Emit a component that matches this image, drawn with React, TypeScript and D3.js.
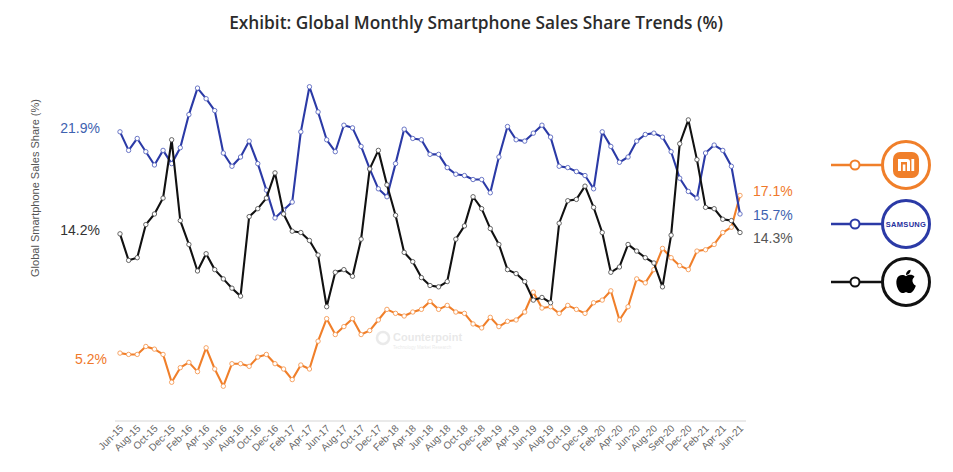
import React from "react";
import * as d3 from "d3";

const tickLabels = [
  "Jun-15","Aug-15","Oct-15","Dec-15","Feb-16","Apr-16","Jun-16","Aug-16","Oct-16","Dec-16",
  "Feb-17","Apr-17","Jun-17","Aug-17","Oct-17","Dec-17","Feb-18","Apr-18","Jun-18","Aug-18",
  "Oct-18","Dec-18","Feb-19","Apr-19","Jun-19","Aug-19","Oct-19","Dec-19","Feb-20","Apr-20",
  "Jun-20","Aug-20","Sep-20","Dec-20","Feb-21","Apr-21","Jun-21"
];

const samsung = [
  21.9,20.5,21.4,20.4,19.4,20.5,19.5,20.7,23.2,25.2,24.4,23.5,20.3,19.3,20.0,21.2,19.5,17.5,15.4,16.0,
  16.6,21.9,25.3,23.4,21.3,20.4,22.4,22.2,20.8,19.1,17.6,17.0,19.5,22.1,21.4,21.3,20.2,20.2,19.2,18.7,
  18.6,18.3,18.3,17.3,20.0,22.3,21.3,21.2,21.8,22.4,21.5,19.3,19.2,18.9,18.6,17.6,21.9,20.8,19.6,20.0,
  21.2,21.7,21.8,21.5,20.4,18.4,17.4,16.9,20.3,20.9,20.5,19.3,15.7
];

const apple = [
  14.2,12.2,12.4,14.9,15.7,16.9,21.3,15.2,13.4,11.4,12.7,11.5,10.8,10.1,9.5,15.5,16.1,16.9,18.8,15.7,
  14.4,14.3,13.7,12.6,8.7,11.3,11.5,11.0,13.8,19.1,20.5,17.9,15.6,12.8,12.1,10.9,10.3,10.2,10.6,13.8,
  14.8,17.0,16.1,14.6,13.4,11.5,11.2,10.6,9.2,9.4,9.0,15.0,16.7,16.8,17.8,16.2,14.3,11.3,11.7,13.4,
  12.9,12.4,12.0,10.2,14.1,21.0,22.8,19.8,16.2,16.1,15.3,15.2,14.3
];

const xiaomi = [
  5.2,5.1,5.1,5.7,5.5,5.1,3.0,4.1,4.5,3.8,5.6,4.0,2.7,4.4,4.4,4.2,4.9,5.1,4.4,4.0,
  3.2,4.3,4.0,6.1,7.8,6.6,7.2,7.8,6.6,6.9,7.7,8.5,8.2,8.0,8.3,8.5,9.1,8.5,8.8,8.3,
  8.2,7.4,7.1,7.9,7.2,7.6,7.7,8.3,9.8,8.6,8.7,8.2,8.8,8.5,8.2,9.0,9.2,9.9,7.7,8.7,
  10.8,10.5,11.5,13.1,12.4,11.8,11.5,12.9,13.0,13.4,14.3,14.7,17.1
];

const startLabels = ["21.9%", "14.2%", "5.2%"];
const endLabels = ["17.1%", "15.7%", "14.3%"];

const C_SAM = "#2b3aa6";
const C_APL = "#111111";
const C_XIA = "#f07f2a";

export default function App() {
  const W = 953, H = 472;
  const x = d3.scaleLinear().domain([0, 72]).range([120, 740]);
  const y = d3.scaleLinear().domain([0, 25]).range([422, 422 - 25 * 13.25]);
  const line = d3.line<number>().x((_, i) => x(i)).y((v) => y(v));

  const series = [
    { data: xiaomi, color: C_XIA },
    { data: samsung, color: C_SAM },
    { data: apple, color: C_APL },
  ];

  const legendY = [165, 224, 282];
  const legendColors = [C_XIA, C_SAM, C_APL];

  return (
    <svg width={W} height={H} style={{ position: "absolute", left: 0, top: 0, background: "#fff" }}
      fontFamily="'Liberation Sans', Arial, sans-serif">
      <rect x={0} y={0} width={W} height={H} fill="#fff" />
      <text x={476} y={29} textAnchor="middle" fontFamily="'Open Sans', sans-serif" fontWeight={600}
        fontSize={17.3} fill="#2b2b2b">
        Exhibit: Global Monthly Smartphone Sales Share Trends (%)
      </text>

      <text transform="translate(39,188) rotate(-90)" textAnchor="middle" fontSize={11} fill="#555">
        Global Smartphone Sales Share (%)
      </text>

      {/* watermark */}
      <g opacity={0.13}>
        <circle cx={383} cy={338} r={6} fill="none" stroke="#666" strokeWidth={2.5} />
        <text x={393} y={341} fontSize={11} fontWeight="bold" fill="#555">Counterpoint</text>
        <text x={393} y={349} fontSize={4.5} fill="#555">Technology Market Research</text>
      </g>

      {/* axis */}
      <line x1={115} x2={746} y1={421} y2={421} stroke="#e3e3e3" strokeWidth={1.5} />
      {tickLabels.map((t, k) => (
        <text key={t + k} transform={`translate(${x(k * 2) + 4},${429}) rotate(-45)`}
          textAnchor="end" fontSize={10} fill="#666">{t}</text>
      ))}

      {series.map((s, si) => (
        <g key={si}>
          <path d={line(s.data) || ""} fill="none" stroke={s.color} strokeWidth={2.1} strokeLinejoin="round" />
          {s.data.map((v, i) => (
            <circle key={i} cx={x(i)} cy={y(v)} r={2.2} fill="#fff"
              stroke={si === 1 ? "#5a68c0" : si === 2 ? "#555" : "#f59a55"} strokeWidth={0.9} />
          ))}
        </g>
      ))}

      {/* start labels */}
      <text x={100} y={y(samsung[0])} dy="0.35em" textAnchor="end" fontSize={14} fill="#3e62b0" transform="translate(0,-4)">{startLabels[0]}</text>
      <text x={100} y={y(apple[0])} dy="0.35em" textAnchor="end" fontSize={14} fill="#333" transform="translate(0,-4)">{startLabels[1]}</text>
      <text x={107} y={y(xiaomi[0])} dy="0.35em" textAnchor="end" fontSize={14} fill="#f0782a" transform="translate(0,6)">{startLabels[2]}</text>

      {/* end labels */}
      <text x={753} y={191} dy="0.35em" fontSize={14} fill="#f0782a">{endLabels[0]}</text>
      <text x={753} y={215} dy="0.35em" fontSize={14} fill="#3e62b0">{endLabels[1]}</text>
      <text x={753} y={238} dy="0.35em" fontSize={14} fill="#555">{endLabels[2]}</text>

      {/* legend */}
      {legendY.map((ly, k) => (
        <g key={k}>
          <line x1={831} x2={882} y1={ly} y2={ly} stroke={legendColors[k]} strokeWidth={2.5} />
          <circle cx={855} cy={ly} r={4.5} fill="#fff" stroke={legendColors[k]} strokeWidth={2} />
          <circle cx={906} cy={ly} r={23.5} fill="#fff" stroke={legendColors[k]} strokeWidth={3} />
        </g>
      ))}
      {/* Xiaomi logo */}
      <g transform={`translate(906,${legendY[0]})`}>
        <rect x={-13} y={-13} width={26} height={26} rx={7} fill={C_XIA} />
        <path d="M-8,-6 H1 Q4,-6 4,-3 V6 H1 V-3 H-5 V6 H-8 Z" fill="#fff" />
        <rect x={-3.2} y={-0.5} width={2.6} height={6.5} fill="#fff" />
        <rect x={5.4} y={-6} width={2.8} height={12} fill="#fff" />
      </g>
      {/* Samsung logo */}
      <text x={906} y={legendY[1]} dy="0.35em" textAnchor="middle" fontSize={7.5} fontWeight="bold"
        fill="#1f2f9c" letterSpacing={0.3}>SAMSUNG</text>
      {/* Apple logo */}
      <g transform={`translate(906,${legendY[2]}) scale(1.35) translate(-12,-11.5)`}>
        <path d="M12,7.2 C10,5.8 6.2,5.8 5.1,9.6 C4,13.6 6.6,19.2 9,19.6 C10.4,19.9 11,19.1 12,19.1 C13,19.1 13.6,19.9 15,19.6 C17.2,19.2 18.9,15.6 19.3,14.2 C17.6,13.4 16.6,11.8 16.8,10 C17,9 17.6,8.2 18.3,7.6 C17,5.8 14,5.7 12,7.2 Z" fill="#000" />
        <path d="M12,6.3 C11.9,4.3 13.4,2.6 15.4,2.4 C15.5,4.4 14,6.1 12,6.3 Z" fill="#000" />
      </g>
    </svg>
  );
}
